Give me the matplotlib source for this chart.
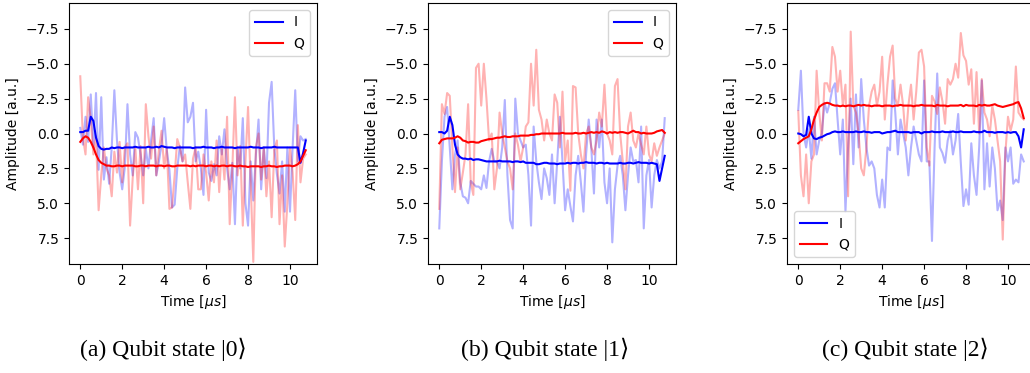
import numpy as np
import matplotlib
matplotlib.use('Agg')
import matplotlib.pyplot as plt

# sampling times in microseconds (87 samples, 0.125 us apart)
time_us = np.arange(87) * 0.125

# ---- state |0> ----
i0_raw = [-0.4, 0.8, -1.2, 0.6, -2.8, 1.0, -2.9, 2.6, -2.6, 3.3,
          1.7, 3.6, 1.0, -3.1, 0.5, 2.8, 4.0, 2.4, -2.1, 1.5,
          3.0, -0.1, 0.3, 1.5, 3.0, 1.1, 2.5, 0.5, -1.1, 3.0,
          2.0, 0.8, -1.1, 1.2, 2.6, 5.3, 5.1, 2.5, 0.9, 2.0,
          -3.3, -0.8, -1.2, -2.2, 2.0, 1.3, 2.5, 4.4, -1.7, 2.8,
          3.4, 2.2, 3.0, 0.2, 1.5, -0.3, 2.5, 4.0, 2.1, 6.5,
          1.0, 2.5, -1.1, 5.0, 6.6, 2.0, 4.8, 1.5, -1.0, 4.0,
          1.0, 3.2, -2.2, -3.7, 1.0, 2.9, 4.3, 2.0, 5.6, 1.0,
          5.6, 1.0, -3.1, 2.0, 0.2, 0.5, 0.4]
q0_raw = [-4.1, 0.3, 1.5, -2.6, -1.0, 1.5, 0.2, 5.5, 3.0, 1.0,
          2.5, 3.0, 4.5, 1.3, 2.8, 0.6, 3.5, 1.0, 0.7, 6.6,
          3.2, 1.0, 4.0, 0.9, 5.0, -2.1, 0.2, 1.8, -0.5, 3.0,
          1.2, -0.2, 2.5, 1.0, 5.4, 5.3, 3.0, 0.4, 1.0, 2.0,
          1.5, 3.5, 5.4, 1.8, 1.0, 4.0, 4.0, 1.5, 2.8, 4.8,
          2.0, 3.5, 0.5, 4.2, 1.0, 3.3, -1.2, 6.5, 2.5, -2.6,
          3.0, 0.9, 6.6, 2.0, -1.9, 3.5, 9.2, 1.0, 0.0, 3.3,
          1.0, 4.5, 2.0, 6.0, 1.2, 0.5, 6.5, 3.0, 8.1, 5.0,
          1.0, 2.8, 6.2, -0.6, 3.5, 1.8, 1.5]
i0_avg = [-0.1, -0.1, -0.2, -0.2, -1.2, -0.9, 0.3, 0.9, 1.1, 1.15,
          1.1, 1.1, 1.0, 1.05, 1.0, 1.0, 1.05, 1.0, 1.0, 1.0,
          1.0, 0.95, 1.0, 1.0, 1.0, 1.0, 0.95, 1.0, 1.0, 0.95,
          1.0, 0.9, 0.95, 1.0, 1.0, 1.0, 1.05, 1.0, 1.0, 1.0,
          1.0, 1.0, 1.0, 1.05, 1.0, 1.0, 1.0, 0.95, 1.0, 1.0,
          1.0, 1.05, 1.0, 1.0, 0.95, 1.0, 1.0, 1.0, 1.0, 1.05,
          1.0, 1.0, 1.0, 1.0, 1.0, 0.95, 1.0, 1.0, 1.0, 1.05,
          1.0, 1.0, 1.0, 1.0, 0.95, 1.0, 1.0, 1.0, 1.0, 1.0,
          1.0, 1.0, 1.0, 1.0, 2.1, 1.4, 0.5]
q0_avg = [0.6, 0.35, 0.2, 0.3, 0.6, 1.0, 1.5, 1.9, 2.1, 2.2,
          2.3, 2.3, 2.35, 2.35, 2.3, 2.3, 2.35, 2.3, 2.3, 2.3,
          2.3, 2.35, 2.35, 2.3, 2.3, 2.35, 2.3, 2.3, 2.3, 2.35,
          2.3, 2.3, 2.35, 2.3, 2.3, 2.35, 2.35, 2.3, 2.3, 2.3,
          2.3, 2.3, 2.35, 2.3, 2.35, 2.3, 2.3, 2.3, 2.35, 2.3,
          2.3, 2.35, 2.3, 2.35, 2.3, 2.3, 2.35, 2.3, 2.3, 2.35,
          2.35, 2.3, 2.35, 2.35, 2.4, 2.35, 2.35, 2.35, 2.35, 2.4,
          2.35, 2.35, 2.3, 2.35, 2.35, 2.4, 2.35, 2.35, 2.3, 2.3,
          2.3, 2.35, 2.3, 2.2, 2.0, 1.6, 1.2]

# ---- state |1> ----
i1_raw = [6.8, 2.0, -1.2, -1.9, 1.0, 4.0, 1.5, 0.5, 3.5, 4.5,
          4.6, 5.0, 3.4, 3.6, 3.8, 3.8, 4.0, 3.0, 3.9, 2.0,
          1.1, 2.0, 2.0, 2.5, 1.0, -2.4, 3.0, 6.2, 6.8, -2.5,
          0.0, 0.5, 1.0, 0.8, 3.0, 6.6, -0.5, 2.0, 3.5, 4.7,
          2.5, 3.2, 4.4, 1.5, 5.0, 2.0, -1.2, 2.0, 5.5, 4.0,
          5.2, 6.3, 3.0, 1.6, 3.5, 5.6, 1.5, -1.0, 1.1, 4.3,
          -1.0, 1.0, -1.0, 3.5, 5.0, 2.5, 7.8, 4.0, 2.3, 1.6,
          3.0, 5.5, 3.0, 1.0, 2.0, 1.9, 3.5, -0.5, 6.8, 3.0,
          1.9, 5.3, 3.0, 1.9, 2.5, 2.0, -1.1]
q1_raw = [5.4, -2.1, -1.4, -2.9, -2.7, 1.0, 4.2, 1.0, 4.0, 2.8,
          1.5, -2.1, 3.5, 4.4, -4.7, -5.0, -2.0, -5.0, -2.5, 0.5,
          0.0, 4.0, 2.5, -1.5, 0.0, 1.0, 2.0, 2.5, 4.0, 0.0,
          0.8, 2.0, 1.0, -0.5, -0.8, -5.0, -2.0, -6.0, -1.7, -1.0,
          0.5, -1.0, 0.0, 0.5, -2.8, -2.2, 1.0, -3.0, 2.0, 0.5,
          4.1, -3.4, -3.3, 0.0, 1.5, 2.5, 0.0, -0.5, 1.0, 1.5,
          0.5, -1.5, -0.5, -3.5, 0.0, 0.5, 1.5, -3.4, -3.9, 0.0,
          2.0, 4.0, -0.5, -1.5, 0.5, 1.0, 0.0, 0.8, 1.5, -0.5,
          1.5, 2.0, 0.7, 1.6, 1.0, 0.5, 0.0]
i1_avg = [-0.1, -0.1, 0.0, -0.2, -1.2, -0.6, 0.8, 1.5, 1.7, 1.8,
          1.8, 1.85, 1.8, 1.9, 1.85, 1.85, 1.9, 1.95, 2.0, 2.0,
          2.0, 2.0, 2.0, 1.95, 2.0, 2.0, 2.0, 2.0, 2.05, 2.0,
          2.0, 2.05, 2.0, 2.1, 2.1, 2.1, 2.1, 2.2, 2.2, 2.15,
          2.1, 2.1, 2.15, 2.15, 2.15, 2.2, 2.15, 2.15, 2.15, 2.1,
          2.15, 2.1, 2.1, 2.15, 2.1, 2.1, 2.05, 2.1, 2.1, 2.1,
          2.15, 2.1, 2.1, 2.15, 2.1, 2.15, 2.15, 2.15, 2.15, 2.1,
          2.15, 2.15, 2.1, 2.1, 2.15, 2.1, 2.05, 2.1, 2.1, 2.1,
          2.15, 2.1, 2.15, 2.2, 3.4, 2.5, 1.6]
q1_avg = [0.7, 0.45, 0.4, 0.35, 0.35, 0.35, 0.3, 0.2, 0.3, 0.5,
          0.55, 0.65, 0.6, 0.6, 0.65, 0.65, 0.55, 0.5, 0.45, 0.4,
          0.4, 0.35, 0.3, 0.3, 0.25, 0.2, 0.25, 0.25, 0.2, 0.2,
          0.2, 0.15, 0.15, 0.15, 0.15, 0.1, 0.1, 0.05, 0.05, 0.0,
          0.0, 0.0, 0.0, 0.0, 0.0, 0.0, 0.0, -0.05, 0.0, 0.0,
          0.0, 0.0, -0.05, 0.0, 0.0, -0.05, 0.0, -0.05, -0.1, -0.05,
          -0.1, -0.05, -0.15, -0.1, 0.0, -0.1, -0.05, -0.1, -0.05, -0.1,
          -0.1, -0.05, 0.0, -0.1, -0.2, -0.1, -0.1, 0.0, -0.05, 0.0,
          0.0, 0.0, -0.05, -0.15, -0.2, -0.25, -0.05]

# ---- state |2> ----
i2_raw = [-1.7, -4.5, 0.0, 1.0, -0.3, 1.8, -1.2, 1.5, 0.5, 0.0,
          -2.2, -1.5, -2.2, -3.2, -3.6, -1.0, 1.5, -1.0, 5.6, 1.0,
          -2.5, 2.2, -2.8, 1.0, -3.9, -1.0, 1.0, 2.3, 2.0, 2.5,
          4.4, 5.3, 3.3, 5.3, 1.0, 1.2, -3.8, -1.5, 1.5, -1.0,
          0.0, 1.0, 3.0, 1.0, -0.5, 0.5, 1.5, 2.0, -3.8, 2.0,
          2.0, 7.7, 1.0, -4.3, 1.0, 1.4, 2.1, 0.5, -0.2, 1.5,
          0.5, -1.4, 2.1, 5.2, 4.0, 5.1, 0.7, 3.0, 4.4, 1.0,
          -3.8, 4.0, 0.7, 3.8, 1.0, 2.5, 5.5, 4.8, 6.2, 1.0,
          2.0, 1.0, 3.6, 3.3, 3.5, 1.5, 2.0]
q2_raw = [-1.6, 3.0, 4.5, 1.5, 5.0, 2.0, 1.5, -4.5, -1.5, 0.5,
          -3.6, -3.6, -3.0, -6.2, -5.5, -3.0, -4.5, -2.0, -3.5, 4.5,
          -7.3, -2.0, -1.5, 0.0, 2.5, 3.0, 1.0, -2.0, -3.0, -3.5,
          -2.0, -3.0, -5.5, -1.0, -3.5, -5.5, -6.3, -2.5, -2.0, -3.5,
          -2.0, 0.5, -2.0, -3.5, -1.0, -3.0, -5.8, -6.0, -4.8, 1.0,
          2.3, -2.7, -2.3, -1.4, -3.3, -2.3, -0.7, -3.9, -3.5, -3.9,
          -5.0, -4.0, -7.2, -5.6, -5.2, -3.5, -4.6, -0.7, -4.4, 0.0,
          -3.9, -1.5, -1.0, 0.2, -2.0, -1.0, 0.5, 2.0, 7.6, 1.4,
          -1.2, -0.2, -1.0, -4.8, -1.5, -1.2, -1.0]
i2_avg = [0.0, 0.05, 0.2, 0.1, -1.2, 0.0, 0.35, 0.4, 0.3, 0.25,
          0.15, 0.05, 0.0, -0.1, -0.15, -0.1, -0.1, -0.15, -0.1, -0.1,
          -0.1, -0.1, -0.15, -0.1, -0.1, -0.15, -0.1, -0.1, -0.05, -0.1,
          -0.1, -0.1, 0.0, -0.05, -0.1, -0.1, -0.15, -0.2, -0.1, -0.1,
          -0.1, -0.1, -0.1, -0.05, -0.1, -0.1, -0.1, 0.0, -0.1, -0.1,
          -0.1, -0.15, -0.1, -0.1, -0.1, -0.15, -0.1, -0.1, -0.1, -0.15,
          -0.1, -0.1, -0.15, -0.1, -0.1, -0.1, -0.1, -0.15, -0.1, -0.1,
          -0.1, -0.2, -0.1, -0.1, -0.1, -0.05, -0.1, -0.1, -0.1, -0.05,
          -0.1, -0.05, -0.1, -0.1, 0.2, 1.0, -0.3]
q2_avg = [0.7, 0.55, 0.4, 0.3, 0.2, -0.3, -1.0, -1.5, -1.9, -2.05,
          -2.15, -2.2, -2.15, -2.05, -2.0, -2.0, -1.95, -2.0, -1.95, -2.0,
          -2.0, -1.95, -2.0, -2.05, -2.0, -2.05, -2.0, -2.0, -1.95, -2.0,
          -2.0, -2.0, -1.95, -2.0, -2.0, -2.0, -1.95, -2.0, -2.0, -2.05,
          -2.0, -2.0, -2.0, -2.0, -1.95, -2.0, -2.0, -2.05, -2.0, -2.0,
          -2.0, -2.0, -1.95, -2.05, -2.0, -2.0, -2.0, -1.95, -2.0, -2.0,
          -2.0, -2.0, -2.05, -1.95, -2.05, -2.0, -2.0, -2.0, -1.95, -2.05,
          -2.0, -2.05, -2.0, -2.0, -2.05, -2.1, -2.0, -1.95, -1.9, -1.95,
          -2.0, -2.05, -2.1, -2.2, -2.25, -1.8, -1.1]

captions = ['(a) Qubit state |0\u27e9', '(b) Qubit state |1\u27e9', '(c) Qubit state |2\u27e9']
legend_locs = ['upper right', 'upper right', 'lower left']
panels = [(i0_raw, q0_raw, i0_avg, q0_avg),
          (i1_raw, q1_raw, i1_avg, q1_avg),
          (i2_raw, q2_raw, i2_avg, q2_avg)]

fig = plt.figure(figsize=(10.3, 3.73), dpi=100)
lefts = [69 / 1030, 428 / 1030, 787 / 1030]
caption_x = [163 / 1030, 545 / 1030, 905 / 1030]

for k, (i_raw, q_raw, i_avg, q_avg) in enumerate(panels):
    ax = fig.add_axes([lefts[k], 1 - 264 / 373, 248 / 1030, 261 / 373])
    ax.plot(time_us, i_raw, color='b', alpha=0.3, lw=1.5)
    ax.plot(time_us, q_raw, color='r', alpha=0.3, lw=1.5)
    ax.plot(time_us, i_avg, color='b', lw=1.5, label='I')
    ax.plot(time_us, q_avg, color='r', lw=1.5, label='Q')
    ax.set_ylim(9.35, -9.35)
    ax.set_yticks([-7.5, -5.0, -2.5, 0.0, 2.5, 5.0, 7.5])
    ax.set_xticks([0, 2, 4, 6, 8, 10])
    ax.set_xlabel(r'Time [$\mu s$]')
    ax.set_ylabel('Amplitude [a.u.]')
    ax.legend(loc=legend_locs[k])
    fig.text(caption_x[k], 1 - 349 / 373, captions[k], ha='center', va='center',
             fontsize=17, family=['Liberation Serif', 'DejaVu Serif', 'DejaVu Sans'])

fig.savefig('out.png', dpi=100)
